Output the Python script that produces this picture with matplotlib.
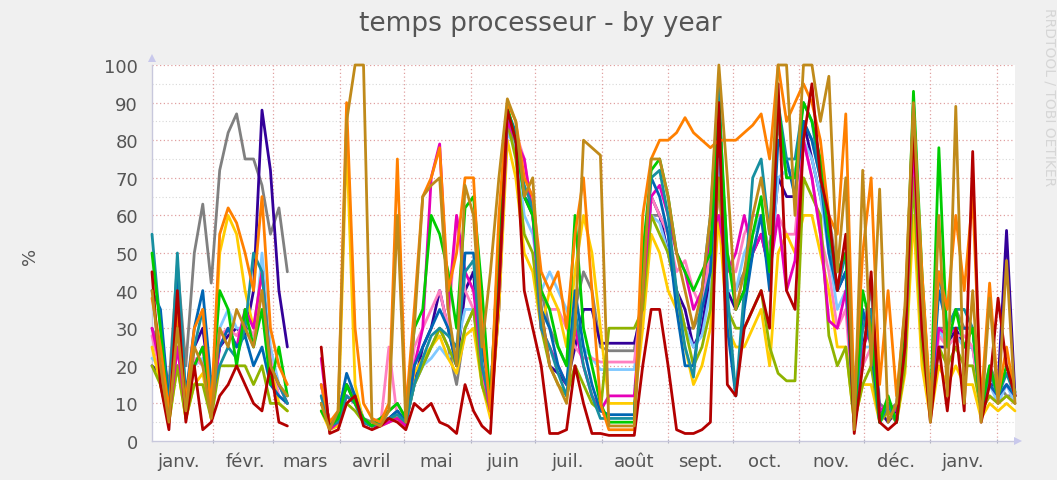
import numpy as np
import matplotlib.pyplot as plt
from matplotlib.patches import Polygon

nan = np.nan

# month grid (day numbers counted from 1 January of the first year)
month_labels = ["janv.", "févr.", "mars", "avril", "mai", "juin", "juil.",
                "août", "sept.", "oct.", "nov.", "déc.", "janv."]
month_starts = [0, 31, 59, 90, 120, 151, 181, 212, 243, 273, 304, 334, 365, 396]
first_day, last_day = 2.6, 404.5

# one sample every ~4 days (%)
grey = [30, 25, 15, 47, 20, 50, 63, 42,
        72, 82, 87, 75, 75, 68, 55, 62, 45, nan, nan, nan,
        12, 4, 6, 15, 12, 6, 5, 6, 8, 10,
        6, 15, 20, 25, 30, 25, 15, 30, 35, 20,
        10, 50, 85, 78, 65, 62, 40, 30, 25, 20,
        35, 45, 40, 25, 24, 24, 24, 24, 40, 60,
        60, 55, 40, 30, 30, 35, 40, 85, 50, 40,
        45, 55, 60, 50, 85, 70,
        70, 85, 80, 70, 60, 45, 50, 15, 30, 40, 10, 8, 10, 30,
        80, 30, 10, 30, 30, 35, 30, 30, 10, 20, 15, 12, 12]
purple = [20, 18, 8, 20, 10, 25, 30, 12,
          25, 28, 30, 28, 40, 88, 72, 40, 25, nan, nan, nan,
          15, 5, 6, 15, 10, 5, 4, 5, 6, 8,
          5, 15, 25, 30, 40, 30, 20, 40, 45, 15,
          8, 35, 88, 80, 65, 60, 35, 20, 18, 15,
          25, 35, 35, 26, 26, 26, 26, 26, 35, 65,
          60, 50, 40, 35, 25, 30, 45, 80, 40, 35,
          40, 50, 55, 45, 70, 65,
          65, 85, 75, 65, 55, 40, 45, 10, 25, 35, 8, 5, 8, 28,
          75, 25, 10, 25, 25, 30, 25, 25, 10, 15, 15, 56, 12]
lightblue = [22, 20, 8, 25, 10, 20, 22, 10,
             30, 35, 30, 30, 25, 50, 25, 15, 12, nan, nan, nan,
             12, 4, 6, 12, 10, 5, 4, 5, 5, 7,
             5, 15, 20, 22, 25, 22, 25, 35, 35, 18,
             8, 40, 82, 78, 60, 55, 40, 45, 40, 35,
             30, 25, 22, 19, 19, 19, 19, 19, 35, 60,
             58, 50, 40, 30, 25, 28, 40, 75, 40, 40,
             50, 55, 60, 45, 70, 72,
             72, 80, 75, 65, 50, 35, 40, 5, 25, 25, 5, 8, 5, 25,
             80, 28, 8, 30, 25, 28, 25, 25, 8, 15, 10, 15, 10]
pink = [28, 18, 7, 25, 8, 22, 20, 8,
        28, 30, 28, 32, 28, 40, 22, 12, 10, nan, nan, nan,
        15, 3, 5, 12, 10, 5, 4, 4, 25, 6,
        4, 25, 30, 35, 40, 30, 60, 40, 35, 18,
        8, 40, 85, 82, 75, 60, 40, 35, 35, 30,
        25, 22, 22, 21, 21, 21, 21, 21, 40, 65,
        60, 55, 45, 48, 40, 35, 50, 65, 45, 45,
        55, 60, 60, 50, 60, 55,
        55, 80, 70, 55, 45, 30, 35, 6, 20, 25, 6, 10, 6, 22,
        75, 25, 8, 28, 25, 28, 28, 25, 8, 12, 10, 12, 10]
yellow = [25, 15, 5, 20, 6, 15, 18, 6,
          50, 60, 55, 40, 30, 45, 20, 10, 8, nan, nan, nan,
          8, 3, 4, 80, 15, 5, 4, 4, 5, 6,
          4, 18, 22, 25, 28, 22, 18, 28, 30, 15,
          6, 35, 80, 70, 50, 45, 30, 40, 35, 25,
          45, 60, 50, 30, 10, 10, 10, 10, 30, 55,
          50, 40, 35, 25, 15, 20, 30, 60, 30, 25,
          25, 30, 35, 20, 50, 55,
          50, 60, 60, 50, 40, 25, 25, 5, 15, 15, 5, 8, 5, 18,
          60, 20, 6, 20, 15, 20, 15, 15, 6, 10, 8, 10, 8]
lime = [20, 15, 5, 20, 6, 15, 15, 6,
        20, 20, 20, 20, 15, 20, 10, 10, 8, nan, nan, nan,
        10, 4, 5, 10, 8, 5, 4, 5, 6, 6,
        5, 15, 20, 25, 30, 25, 20, 30, 35, 15,
        8, 40, 85, 75, 55, 50, 30, 20, 15, 12,
        20, 15, 10, 8, 30, 30, 30, 30, 35, 60,
        55, 50, 40, 30, 20, 25, 35, 70, 35, 30,
        30, 35, 40, 25, 18, 16,
        16, 70, 65, 60, 28, 20, 25, 5, 15, 20, 5, 8, 5, 20,
        70, 25, 8, 25, 20, 25, 20, 20, 8, 12, 10, 12, 10]
magenta = [30, 20, 6, 25, 8, 20, 25, 8,
           25, 30, 25, 35, 30, 45, 20, 15, 10, nan, nan, nan,
           22, 3, 5, 12, 10, 5, 4, 4, 5, 6,
           4, 20, 30, 70, 79, 35, 60, 45, 40, 20,
           8, 40, 85, 80, 75, 60, 30, 25, 20, 15,
           30, 20, 12, 8, 12, 12, 12, 12, 40, 65,
           68, 60, 50, 45, 35, 40, 55, 60, 45, 50,
           60, 50, 55, 45, 60, 40,
           48, 80, 70, 55, 32, 30, 40, 8, 25, 30, 8, 10, 8, 25,
           80, 30, 8, 30, 28, 30, 30, 30, 10, 15, 12, 15, 12]
blue = [40, 35, 10, 45, 12, 30, 40, 15,
        25, 30, 25, 28, 20, 25, 15, 12, 10, nan, nan, nan,
        10, 5, 7, 18, 12, 5, 4, 5, 6, 8,
        5, 20, 25, 30, 35, 30, 20, 50, 50, 25,
        12, 50, 88, 82, 65, 62, 35, 30, 20, 15,
        40, 25, 15, 8, 7, 7, 7, 7, 45, 70,
        65, 55, 35, 20, 20, 35, 45, 85, 30, 12,
        35, 50, 60, 40, 80, 75,
        65, 85, 80, 70, 50, 40, 45, 5, 35, 25, 5, 10, 5, 28,
        90, 35, 8, 40, 30, 30, 30, 30, 8, 15, 12, 15, 12]
teal = [55, 30, 8, 50, 10, 25, 35, 12,
        20, 25, 22, 30, 50, 45, 20, 15, 10, nan, nan, nan,
        12, 4, 5, 12, 10, 5, 4, 5, 6, 7,
        5, 15, 22, 28, 30, 28, 25, 45, 48, 20,
        10, 45, 88, 80, 68, 62, 30, 25, 18, 12,
        35, 20, 12, 6, 6, 6, 6, 6, 45, 70,
        72, 60, 40, 25, 17, 40, 60, 95, 40, 12,
        40, 70, 75, 55, 90, 75,
        75, 90, 85, 70, 55, 40, 50, 5, 30, 35, 5, 10, 5, 30,
        88, 40, 8, 45, 30, 35, 35, 30, 8, 18, 12, 18, 12]
green = [50, 30, 6, 35, 10, 20, 25, 10,
         40, 35, 20, 35, 25, 35, 15, 25, 12, nan, nan, nan,
         8, 4, 6, 15, 10, 6, 4, 6, 8, 10,
         6, 30, 35, 60, 55, 45, 30, 62, 65, 40,
         10, 55, 89, 80, 65, 60, 40, 35, 25, 20,
         60, 30, 20, 10, 5, 5, 5, 5, 50, 72,
         75, 65, 50, 45, 40, 45, 50, 90, 50, 35,
         40, 55, 65, 45, 90, 70,
         70, 90, 85, 75, 55, 45, 50, 5, 40, 30, 5, 12, 5, 30,
         93, 45, 8, 78, 25, 35, 25, 30, 8, 20, 12, 20, 13]
orange = [38, 25, 8, 35, 10, 30, 35, 8,
          55, 62, 58, 50, 40, 65, 30, 20, 15, nan, nan, nan,
          15, 5, 8, 90, 30, 10, 6, 5, 10, 75,
          8, 35, 65, 70, 78, 40, 50, 70, 70, 30,
          8, 60, 90, 85, 70, 65, 45, 40, 45, 30,
          55, 70, 40, 10, 3, 3, 3, 3, 60, 75,
          80, 80, 82, 86, 82, 80, 78, 80, 80, 80,
          82, 84, 87, 75, 100, 85,
          90, 95, 90, 80, 60, 55, 87, 10, 50, 70, 15, 40, 12, 35,
          88, 45, 10, 45, 35, 60, 40, 65, 10, 42, 12, 25, 12]
darkred = [45, 15, 3, 40, 5, 20, 3, 5,
           12, 15, 20, 15, 10, 8, 20, 5, 4, nan, nan, nan,
           25, 2, 3, 10, 12, 4, 3, 4, 6, 5,
           3, 10, 8, 10, 5, 4, 2, 15, 8, 4,
           2, 40, 88, 80, 40, 30, 20, 2, 2, 3,
           20, 10, 2, 2, 1.5, 1.5, 1.5, 1.5, 20, 35,
           35, 20, 3, 2, 2, 3, 5, 90, 15, 12,
           30, 35, 40, 30, 95, 40,
           35, 80, 95, 70, 60, 40, 55, 2, 20, 45, 5, 3, 5, 25,
           85, 30, 5, 25, 8, 30, 8, 77, 5, 15, 38, 20, 12]
olive = [40, 20, 5, 30, 8, 25, 20, 6,
         30, 25, 35, 30, 25, 40, 20, 15, 12, nan, nan, nan,
         10, 3, 8, 85, 100, 100, 5, 4, 8, 60,
         5, 30, 65, 68, 70, 35, 20, 68, 60, 25,
         45, 70, 91, 85, 65, 70, 35, 20, 15, 10,
         30, 80, 78, 76, 4, 4, 4, 4, 40, 75,
         75, 65, 50, 40, 30, 40, 60, 100, 70, 35,
         45, 60, 70, 55, 100, 100,
         60, 100, 100, 85, 97, 45, 70, 3, 72, 20, 67, 5, 10, 36,
         90, 40, 5, 60, 12, 89, 10, 40, 5, 38, 10, 48, 10]

# drawing order = munin order, last one on top
series = [
    (grey, "#808080"), (purple, "#330099"), (lightblue, "#80C9FF"),
    (pink, "#FF80C0"), (yellow, "#FFCC00"), (lime, "#8FB300"),
    (magenta, "#E600B8"), (blue, "#0066B3"), (teal, "#178FA0"),
    (green, "#00CC00"), (orange, "#FF8000"), (darkred, "#B30000"),
    (olive, "#C08A1A"),
]

W, H = 1057, 481
BG = "#f0f0f0"
TXT = "#555555"

fig = plt.figure(figsize=(W / 100, H / 100), dpi=100, facecolor=BG)
ax = fig.add_axes([152 / W, 39 / H, 863 / W, 376 / H])
ax.set_facecolor("white")

days = np.linspace(first_day, last_day, len(olive))
for vals, col in series:
    ax.plot(days, vals, color=col, lw=2.0, clip_on=False,
            solid_joinstyle="round", solid_capstyle="round", zorder=3)

ax.set_xlim(first_day, last_day)
ax.set_ylim(0, 100)

# grid: minor every 5 %, major every 10 %, months in red dots
for v in range(5, 100, 10):
    ax.axhline(v, color="#d8d8d8", lw=0.8, ls=(0, (1, 2)), zorder=1)
for v in range(10, 101, 10):
    ax.axhline(v, color="#e0a0a0", lw=0.9, ls=(0, (1, 2)), zorder=1)
grid_days = [d for d in month_starts if first_day < d < last_day]
for d in grid_days:
    ax.axvline(d, color="#e0a0a0", lw=0.9, ls=(0, (1, 2)), zorder=1)

ax.set_yticks(range(0, 101, 10))
ax.tick_params(axis="y", length=0, pad=10, labelsize=13, labelcolor=TXT)
ax.set_xticks(grid_days)
ax.set_xticklabels([])
ax.tick_params(axis="x", which="major", length=3, direction="inout",
               color="#b0b0c0", width=0.8)
ax.set_xticks([d + 15 for d in month_starts[:13]], minor=True)
ax.set_xticklabels(month_labels, minor=True)
ax.tick_params(axis="x", which="minor", length=0, pad=8, labelsize=13,
               labelcolor=TXT)

for side in ("top", "right"):
    ax.spines[side].set_visible(False)
for side in ("left", "bottom"):
    ax.spines[side].set_color("#c8c8dc")
    ax.spines[side].set_linewidth(1.0)


def px(x, y):
    return (x / W, 1 - y / H)


fig.patches.append(Polygon([px(148, 63), px(156, 63), px(152, 55)],
                           closed=True, transform=fig.transFigure,
                           facecolor="#c8c8ec", edgecolor="none"))
fig.patches.append(Polygon([px(1014, 438), px(1014, 446), px(1022, 442)],
                           closed=True, transform=fig.transFigure,
                           facecolor="#c8c8ec", edgecolor="none"))

fig.text(540 / W, 1 - 24 / H, "temps processeur - by year", ha="center",
         va="center", fontsize=19, color=TXT)
fig.text(30 / W, 1 - 256 / H, "%", ha="center", va="center", rotation=90,
         fontsize=13, color=TXT)
fig.text(1049 / W, 1 - 8 / H, "RRDTOOL / TOBI OETIKER", ha="center", va="top",
         rotation=270, fontsize=10, color="#d6d6d6")

fig.savefig("out.png", dpi=100, facecolor=BG)
